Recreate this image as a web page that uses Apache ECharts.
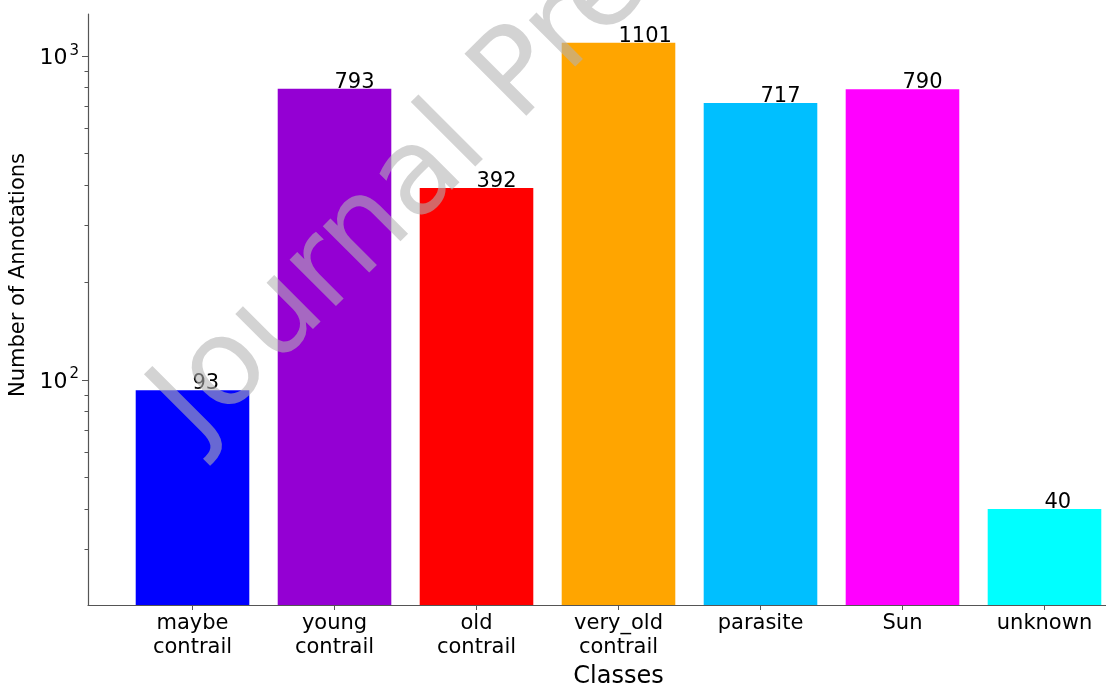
<!DOCTYPE html>
<html>
<head>
<meta charset="utf-8">
<script src="https://cdn.jsdelivr.net/npm/echarts@6/dist/echarts.min.js"></script>
<style>html,body{margin:0;padding:0;background:#fff}#c{width:1106px;height:684px}</style>
</head>
<body>
<div id="c"></div>
<script>
const categories = ['maybe\ncontrail', 'young\ncontrail', 'old\ncontrail', 'very_old\ncontrail', 'parasite', 'Sun', 'unknown'];
const counts = [93, 793, 392, 1101, 717, 790, 40];
const barColors = ['#0000ff', '#9400d3', '#ff0000', '#ffa500', '#00bfff', '#ff00ff', '#00ffff'];
const yMajorTicks = [100, 1000];
const yMinorTicks = [20, 30, 40, 50, 60, 70, 80, 90, 200, 300, 400, 500, 600, 700, 800, 900];

const FONT = 'DejaVu Sans';
const xMin = -0.736, xMax = 6.736;
const gridLeft = 88, gridWidth = 1061;
const barW = 0.8 * gridWidth / (xMax - xMin);
const positions = categories.map((c, i) => i);

const chart = echarts.init(document.getElementById('c'), null, {renderer: 'canvas'});
chart.setOption({
  animation: false,
  backgroundColor: '#ffffff',
  grid: {left: gridLeft, top: 14, width: gridWidth, bottom: 79, containLabel: false, outerBoundsMode: 'none'},
  xAxis: {
    type: 'value', min: xMin, max: xMax,
    name: 'Classes', nameLocation: 'middle', nameGap: 58,
    nameTextStyle: {fontFamily: FONT, fontSize: 24, color: '#000'},
    axisLine: {show: true, onZero: false, lineStyle: {color: '#555', width: 1.2}},
    axisTick: {show: true, customValues: positions, length: 5, lineStyle: {color: '#555'}},
    axisLabel: {customValues: positions, formatter: v => categories[Math.round(v)],
      fontFamily: FONT, fontSize: 21, lineHeight: 24, color: '#000', margin: 7},
    splitLine: {show: false}
  },
  yAxis: [{
    type: 'log', logBase: 10, min: 20.2, max: 1350,
    name: 'Number of Annotations', nameLocation: 'middle', nameRotate: 90, nameGap: 58,
    nameTextStyle: {fontFamily: FONT, fontSize: 21, color: '#000', padding: [0, 0, 0, 69]},
    axisLine: {show: true, onZero: false, lineStyle: {color: '#555', width: 1.2}},
    axisTick: {show: true, customValues: yMajorTicks, length: 6, lineStyle: {color: '#555'}},
    axisLabel: {customValues: yMajorTicks,
      formatter: v => '{b|10}{s|' + Math.round(Math.log10(v)) + '}',
      rich: {
        b: {fontFamily: FONT, fontSize: 22, color: '#000', lineHeight: 26, verticalAlign: 'bottom'},
        s: {fontFamily: FONT, fontSize: 15, color: '#000', lineHeight: 26, verticalAlign: 'top', padding: [0, 0, 0, 2]}
      },
      margin: 9},
    splitLine: {show: false}, minorTick: {show: false}
  }, {
    type: 'log', logBase: 10, min: 20.2, max: 1350, position: 'left', offset: 0,
    axisLine: {show: false, onZero: false},
    axisTick: {show: true, customValues: yMinorTicks, length: 3.5, lineStyle: {color: '#555'}},
    axisLabel: {show: false},
    splitLine: {show: false}
  }],
  series: [{
    type: 'bar', yAxisIndex: 0, barWidth: barW,
    data: counts.map((v, i) => ({value: [i, v], itemStyle: {color: barColors[i]}})),
    label: {show: true, position: ['50%', 0], align: 'left', verticalAlign: 'bottom', offset: [0, 4],
      formatter: p => String(p.value[1]), fontFamily: FONT, fontSize: 21, color: '#000'}
  }],
  graphic: [{
    type: 'text', x: 133, y: 380, rotation: Math.PI / 4, z: 100, silent: true,
    style: {text: 'Journal Pre-proof', fontFamily: FONT, fontSize: 120, fill: 'rgba(180,180,180,0.58)',
      align: 'left', verticalAlign: 'top'}
  }]
});
</script>
</body>
</html>
